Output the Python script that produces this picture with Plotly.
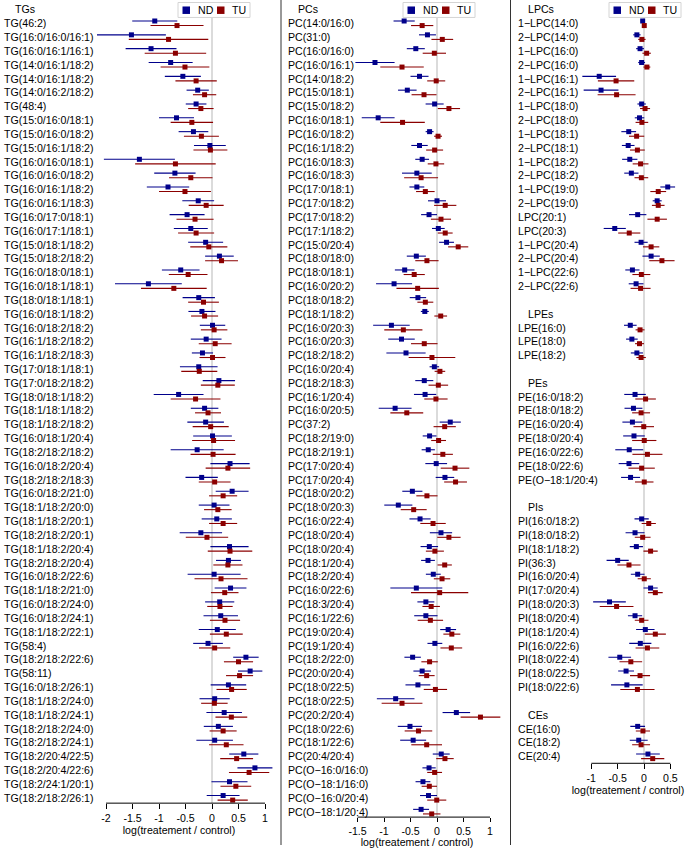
import plotly.graph_objects as go

# ---------------- data ----------------
tg_labels = ["TG(46:2)", "TG(16:0/16:0/16:1)", "TG(16:0/16:1/16:1)", "TG(14:0/16:1/18:2)",
             "TG(14:0/16:1/18:2)", "TG(14:0/16:2/18:2)", "TG(48:4)", "TG(15:0/16:0/18:1)",
             "TG(15:0/16:0/18:2)", "TG(15:0/16:1/18:2)", "TG(16:0/16:0/18:1)", "TG(16:0/16:0/18:2)",
             "TG(16:0/16:1/18:2)", "TG(16:0/16:1/18:3)", "TG(16:0/17:0/18:1)", "TG(16:0/17:1/18:1)",
             "TG(15:0/18:1/18:2)", "TG(15:0/18:2/18:2)", "TG(16:0/18:0/18:1)", "TG(16:0/18:1/18:1)",
             "TG(18:0/18:1/18:1)", "TG(16:0/18:1/18:2)", "TG(16:0/18:2/18:2)", "TG(16:1/18:2/18:2)",
             "TG(16:1/18:2/18:3)", "TG(17:0/18:1/18:1)", "TG(17:0/18:2/18:2)", "TG(18:0/18:1/18:2)",
             "TG(18:1/18:1/18:2)", "TG(18:1/18:2/18:2)", "TG(16:0/18:1/20:4)", "TG(18:2/18:2/18:2)",
             "TG(16:0/18:2/20:4)", "TG(18:2/18:2/18:3)", "TG(16:0/18:2/21:0)", "TG(18:1/18:2/20:0)",
             "TG(18:1/18:2/20:1)", "TG(18:2/18:2/20:1)", "TG(18:1/18:2/20:4)", "TG(18:2/18:2/20:4)",
             "TG(16:0/18:2/22:6)", "TG(18:1/18:2/21:0)", "TG(16:0/18:2/24:0)", "TG(16:0/18:2/24:1)",
             "TG(18:1/18:2/22:1)", "TG(58:4)", "TG(18:2/18:2/22:6)", "TG(58:11)",
             "TG(16:0/18:2/26:1)", "TG(18:1/18:2/24:0)", "TG(18:1/18:2/24:1)", "TG(18:2/18:2/24:0)",
             "TG(18:2/18:2/24:1)", "TG(18:2/20:4/22:5)", "TG(18:2/20:4/22:6)", "TG(18:2/24:1/20:1)",
             "TG(18:2/18:2/26:1)"]
tg_nd = [-1.08, -1.52, -1.15, -0.78, -0.55, -0.27, -0.30, -0.67, -0.35, -0.04, -1.37, -0.70, -0.83, -0.26,
         -0.47, -0.40, -0.12, 0.14, -0.59, -1.20, -0.25, -0.19, 0.01, -0.11, -0.18, -0.25, 0.13, -0.63,
         -0.14, -0.12, 0.01, -0.28, 0.34, -0.195, 0.38, 0.04, 0.09, -0.21, 0.33, 0.31, 0.04, 0.35,
         0.145, 0.165, 0.10, -0.075, 0.64, 0.72, 0.31, 0.05, 0.23, 0.12, 0.05, 0.60, 0.81, 0.33, 0.21]
tg_nd_ci = [0.425, 0.65, 0.48, 0.415, 0.34, 0.21, 0.195, 0.33, 0.28, 0.30, 0.67, 0.39, 0.40, 0.30,
            0.33, 0.32, 0.33, 0.27, 0.355, 0.63, 0.305, 0.255, 0.24, 0.29, 0.20, 0.355, 0.305, 0.47,
            0.26, 0.345, 0.365, 0.50, 0.37, 0.305, 0.31, 0.29, 0.285, 0.40, 0.36, 0.235, 0.50, 0.30,
            0.275, 0.325, 0.35, 0.28, 0.24, 0.23, 0.335, 0.285, 0.335, 0.275, 0.345, 0.275, 0.33, 0.34, 0.31]
tg_tu = [-0.66, -0.82, -0.69, -0.51, -0.30, -0.14, -0.21, -0.38, -0.20, -0.03, -0.69, -0.40, -0.51, -0.11,
         -0.32, -0.30, -0.06, 0.18, -0.45, -0.72, -0.16, -0.14, 0.04, 0.06, 0.01, -0.24, 0.11, -0.31,
         -0.075, -0.025, 0.03, 0.02, 0.30, 0.05, 0.21, 0.11, 0.21, -0.095, 0.34, 0.30, 0.17, 0.24,
         0.15, 0.245, 0.27, 0.05, 0.50, 0.52, 0.37, 0.045, 0.365, 0.21, 0.27, 0.465, 0.70, 0.45, 0.39]
tg_tu_ci = [0.50, 0.75, 0.58, 0.46, 0.39, 0.22, 0.24, 0.40, 0.33, 0.32, 0.76, 0.41, 0.49, 0.33,
            0.35, 0.34, 0.35, 0.31, 0.365, 0.62, 0.29, 0.255, 0.25, 0.31, 0.245, 0.34, 0.32, 0.47,
            0.245, 0.34, 0.405, 0.425, 0.42, 0.30, 0.265, 0.26, 0.265, 0.40, 0.42, 0.275, 0.50, 0.26,
            0.24, 0.285, 0.31, 0.295, 0.275, 0.255, 0.285, 0.25, 0.30, 0.255, 0.325, 0.31, 0.38, 0.29, 0.285]

pc_labels = ["PC(14:0/16:0)", "PC(31:0)", "PC(16:0/16:0)", "PC(16:0/16:1)", "PC(14:0/18:2)",
             "PC(15:0/18:1)", "PC(15:0/18:2)", "PC(16:0/18:1)", "PC(16:0/18:2)", "PC(16:1/18:2)",
             "PC(16:0/18:3)", "PC(16:0/18:3)", "PC(17:0/18:1)", "PC(17:0/18:2)", "PC(17:0/18:2)",
             "PC(17:1/18:2)", "PC(15:0/20:4)", "PC(18:0/18:0)", "PC(18:0/18:1)", "PC(16:0/20:2)",
             "PC(18:0/18:2)", "PC(18:1/18:2)", "PC(16:0/20:3)", "PC(16:0/20:3)", "PC(18:2/18:2)",
             "PC(16:0/20:4)", "PC(18:2/18:3)", "PC(16:1/20:4)", "PC(16:0/20:5)", "PC(37:2)",
             "PC(18:2/19:0)", "PC(18:2/19:1)", "PC(17:0/20:4)", "PC(17:0/20:4)", "PC(18:0/20:2)",
             "PC(18:0/20:3)", "PC(16:0/22:4)", "PC(18:0/20:4)", "PC(18:0/20:4)", "PC(18:1/20:4)",
             "PC(18:2/20:4)", "PC(16:0/22:6)", "PC(18:3/20:4)", "PC(16:1/22:6)", "PC(19:0/20:4)",
             "PC(19:1/20:4)", "PC(18:2/22:0)", "PC(20:0/20:4)", "PC(18:0/22:5)", "PC(18:0/22:5)",
             "PC(20:2/20:4)", "PC(18:0/22:6)", "PC(18:1/22:6)", "PC(20:4/20:4)", "PC(O−16:0/16:0)",
             "PC(O−18:1/16:0)", "PC(O−16:0/20:4)", "PC(O−18:1/20:4)"]
pc_nd = [-0.62, -0.18, -0.40, -1.17, -0.33, -0.56, -0.045, -1.11, -0.14, -0.33, -0.28, -0.38, -0.38, 0.0,
         -0.15, 0.025, 0.18, -0.39, -0.61, -0.81, -0.36, -0.23, -0.86, -0.67, -0.585, -0.05, -0.24, -0.225,
         -0.79, 0.25, -0.14, -0.165, -0.015, 0.15, -0.465, -0.73, -0.32, 0.075, -0.145, -0.17, -0.07, -0.39,
         -0.21, -0.21, 0.21, -0.04, -0.46, -0.28, -0.36, -0.78, 0.365, -0.51, -0.45, 0.08, -0.15, -0.265, -0.16, -0.30]
pc_nd_ci = [0.20, 0.16, 0.17, 0.37, 0.17, 0.175, 0.17, 0.31, 0.075, 0.155, 0.13, 0.28, 0.14, 0.17,
            0.15, 0.12, 0.14, 0.18, 0.185, 0.34, 0.155, 0.075, 0.345, 0.25, 0.37, 0.09, 0.17, 0.21,
            0.31, 0.20, 0.13, 0.125, 0.205, 0.175, 0.19, 0.265, 0.20, 0.21, 0.165, 0.13, 0.14, 0.49,
            0.16, 0.22, 0.15, 0.14, 0.155, 0.165, 0.235, 0.355, 0.26, 0.23, 0.245, 0.16, 0.125, 0.14, 0.16, 0.15]
pc_tu = [-0.28, 0.10, -0.05, -0.66, -0.015, -0.245, 0.225, -0.65, 0.02, -0.045, -0.02, -0.30, -0.22, 0.155,
         0.075, 0.155, 0.40, -0.19, -0.43, -0.365, -0.22, 0.07, -0.635, -0.24, -0.095, 0.055, 0.025, -0.02,
         -0.57, 0.145, 0.03, 0.11, 0.34, 0.35, -0.19, -0.44, -0.075, 0.225, -0.04, 0.145, 0.095, 0.05,
         -0.11, -0.125, 0.28, 0.27, -0.14, -0.195, -0.03, -0.66, 0.82, -0.35, -0.195, 0.15, -0.045, -0.145, -0.005, -0.10]
pc_tu_ci = [0.21, 0.205, 0.22, 0.41, 0.17, 0.235, 0.21, 0.42, 0.075, 0.16, 0.155, 0.32, 0.175, 0.21,
            0.19, 0.14, 0.19, 0.22, 0.20, 0.40, 0.15, 0.12, 0.36, 0.25, 0.44, 0.10, 0.185, 0.22,
            0.31, 0.21, 0.14, 0.19, 0.27, 0.215, 0.20, 0.245, 0.24, 0.22, 0.17, 0.135, 0.155, 0.54,
            0.165, 0.24, 0.16, 0.205, 0.155, 0.15, 0.22, 0.385, 0.375, 0.26, 0.29, 0.165, 0.14, 0.145, 0.18, 0.165]

lpc_labels = ["1−LPC(14:0)", "2−LPC(14:0)", "1−LPC(16:0)", "2−LPC(16:0)", "1−LPC(16:1)", "2−LPC(16:1)",
              "1−LPC(18:0)", "2−LPC(18:0)", "1−LPC(18:1)", "2−LPC(18:1)", "1−LPC(18:2)", "2−LPC(18:2)",
              "1−LPC(19:0)", "2−LPC(19:0)", "LPC(20:1)", "LPC(20:3)", "1−LPC(20:4)", "2−LPC(20:4)",
              "1−LPC(22:6)", "2−LPC(22:6)"]
lpc_nd = [-0.025, -0.135, -0.075, -0.045, -0.85, -0.815, -0.045, -0.085, -0.29, -0.30, -0.27, -0.24,
          0.45, 0.25, -0.12, -0.555, -0.055, 0.135, -0.22, -0.15]
lpc_nd_ci = [0.04, 0.07, 0.075, 0.065, 0.32, 0.33, 0.08, 0.09, 0.14, 0.12, 0.145, 0.135,
             0.14, 0.085, 0.165, 0.21, 0.125, 0.165, 0.135, 0.14]
lpc_tu = [0.005, -0.04, 0.05, 0.055, -0.53, -0.52, 0.02, -0.04, -0.14, -0.125, -0.065, -0.05,
          0.27, 0.27, 0.25, -0.28, 0.135, 0.34, -0.05, -0.065]
lpc_tu_ci = [0.03, 0.07, 0.08, 0.065, 0.345, 0.36, 0.095, 0.12, 0.145, 0.14, 0.15, 0.13,
             0.15, 0.12, 0.185, 0.21, 0.155, 0.24, 0.17, 0.19]

lpe_labels = ["LPE(16:0)", "LPE(18:0)", "LPE(18:2)"]
lpe_nd = [-0.26, -0.23, -0.135]
lpe_nd_ci = [0.12, 0.11, 0.115]
lpe_tu = [-0.075, -0.085, -0.055]
lpe_tu_ci = [0.085, 0.085, 0.09]

pe_labels = ["PE(16:0/18:2)", "PE(18:0/18:2)", "PE(16:0/20:4)", "PE(18:0/20:4)", "PE(16:0/22:6)",
             "PE(18:0/22:6)", "PE(O−18:1/20:4)"]
pe_nd = [-0.17, -0.20, -0.22, -0.19, -0.28, -0.285, -0.255]
pe_nd_ci = [0.205, 0.17, 0.19, 0.205, 0.265, 0.195, 0.18]
pe_tu = [0.03, -0.055, -0.005, 0.005, 0.065, -0.045, 0.005]
pe_tu_ci = [0.195, 0.17, 0.195, 0.23, 0.285, 0.25, 0.175]

pi_labels = ["PI(16:0/18:2)", "PI(18:0/18:2)", "PI(18:1/18:2)", "PI(36:3)", "PI(16:0/20:4)",
             "PI(17:0/20:4)", "PI(18:0/20:3)", "PI(18:0/20:4)", "PI(18:1/20:4)", "PI(16:0/22:6)",
             "PI(18:0/22:4)", "PI(18:0/22:5)", "PI(18:0/22:6)"]
pi_nd = [-0.045, -0.17, -0.145, -0.50, -0.12, 0.125, -0.655, -0.17, 0.025, -0.07, -0.46, -0.34, -0.325]
pi_nd_ci = [0.135, 0.18, 0.125, 0.21, 0.13, 0.135, 0.31, 0.135, 0.175, 0.21, 0.215, 0.15, 0.30]
pi_tu = [0.09, -0.025, 0.125, -0.285, 0.005, 0.215, -0.52, -0.045, 0.215, 0.065, -0.25, -0.075, -0.125]
pi_tu_ci = [0.135, 0.15, 0.135, 0.22, 0.125, 0.14, 0.32, 0.13, 0.20, 0.225, 0.215, 0.19, 0.325]

ce_labels = ["CE(16:0)", "CE(18:2)", "CE(20:4)"]
ce_nd = [-0.12, -0.10, 0.075]
ce_nd_ci = [0.14, 0.17, 0.225]
ce_tu = [-0.02, -0.055, 0.165]
ce_tu_ci = [0.135, 0.17, 0.22]

tg_ticks = [-2, -1.5, -1, -0.5, 0, 0.5, 1]
pc_ticks = [-1.5, -1, -0.5, 0, 0.5, 1]
lp_ticks = [-1, -0.5, 0, 0.5]
series_names = ["ND", "TU"]
axis_title = "log(treatement / control)"

# ---------------- styling / layout constants ----------------
W, H = 685, 848
ROW, FIRST = 13.88, 23.3
FONT = "Liberation Sans, Arial, sans-serif"
FS = 10.6
ND_COL, TU_COL = "#00008B", "#8B0000"


def slot_of(px):
    return (px - FIRST) / ROW


def tick_txt(v):
    return "%g" % v


# panel: groups as (title, labels, nd, nd_ci, tu, tu_ci)
panels = [
    dict(ax="", zero=212.0, unit=53.0, dom=(85, 273), axis_px=806, ticks=tg_ticks, ticklen=5, standoff=3,
         label_px=2, title_px=13, leg_px=178,
         groups=[("TGs", tg_labels, tg_nd, tg_nd_ci, tg_tu, tg_tu_ci)]),
    dict(ax="2", zero=437.0, unit=53.0, dom=(333, 501), axis_px=820, ticks=pc_ticks, ticklen=4, standoff=4,
         label_px=286, title_px=296, leg_px=403,
         groups=[("PCs", pc_labels, pc_nd, pc_nd_ci, pc_tu, pc_tu_ci)]),
    dict(ax="3", zero=644.0, unit=52.7, dom=(573, 683), axis_px=766, ticks=lp_ticks, ticklen=5, standoff=3,
         label_px=516, title_px=526, leg_px=609,
         groups=[("LPCs", lpc_labels, lpc_nd, lpc_nd_ci, lpc_tu, lpc_tu_ci),
                 ("LPEs", lpe_labels, lpe_nd, lpe_nd_ci, lpe_tu, lpe_tu_ci),
                 ("PEs", pe_labels, pe_nd, pe_nd_ci, pe_tu, pe_tu_ci),
                 ("PIs", pi_labels, pi_nd, pi_nd_ci, pi_tu, pi_tu_ci),
                 ("CEs", ce_labels, ce_nd, ce_nd_ci, ce_tu, ce_tu_ci)]),
]

fig = go.Figure()
annotations = []
shapes = []
layout_axes = {}

for p in panels:
    xa, ya = "x" + p["ax"], "y" + p["ax"]
    ys, xs_nd, ci_nd, xs_tu, ci_tu = [], [], [], [], []
    slot = -1
    for (title, labels, nd, ndci, tu, tuci) in p["groups"]:
        annotations.append(dict(text=title, x=p["title_px"] / W, xref="paper", y=slot, yref=ya,
                                xanchor="left", yanchor="middle", showarrow=False,
                                font=dict(family=FONT, size=FS, color="black")))
        for i, lab in enumerate(labels):
            s = slot + 1 + i
            annotations.append(dict(text=lab, x=p["label_px"] / W, xref="paper", y=s, yref=ya,
                                    xanchor="left", yanchor="middle", showarrow=False,
                                    font=dict(family=FONT, size=FS, color="black")))
            ys.append(s)
        xs_nd += nd; ci_nd += ndci; xs_tu += tu; ci_tu += tuci
        slot = slot + len(labels) + 2

    for name, xv, cv, off, col in [("ND", xs_nd, ci_nd, -0.16, ND_COL),
                                  ("TU", xs_tu, ci_tu, 0.17, TU_COL)]:
        fig.add_trace(go.Scatter(
            x=xv, y=[y + off for y in ys], mode="markers", name=name, showlegend=False,
            xaxis=xa, yaxis=ya, cliponaxis=False,
            marker=dict(symbol="square", size=5, color=col, line=dict(width=0)),
            error_x=dict(type="data", array=cv, visible=True, color=col, thickness=1.1, width=0)))

    x0 = (p["dom"][0] - p["zero"]) / p["unit"]
    x1 = (p["dom"][1] - p["zero"]) / p["unit"]
    ybot = slot_of(p["axis_px"])
    ytop = slot_of(0)
    layout_axes["xaxis" + p["ax"]] = dict(
        domain=[p["dom"][0] / W, p["dom"][1] / W], range=[x0, x1], anchor=ya,
        showgrid=False, zeroline=False, showline=False,
        ticks="outside", ticklen=p["ticklen"], tickwidth=1, tickcolor="black",
        tickvals=p["ticks"], ticktext=[tick_txt(v) for v in p["ticks"]],
        tickfont=dict(family=FONT, size=FS, color="black"),
        title=dict(text=axis_title, font=dict(family=FONT, size=FS, color="black"),
                   standoff=p["standoff"]),
        fixedrange=True)
    layout_axes["yaxis" + p["ax"]] = dict(
        domain=[1 - p["axis_px"] / H, 1], range=[ybot, ytop], anchor=xa,
        showgrid=False, zeroline=False, showline=False, showticklabels=False, ticks="",
        fixedrange=True)
    # axis line spanning tick range only
    shapes.append(dict(type="line", xref=xa, yref=ya + " domain", x0=p["ticks"][0], x1=p["ticks"][-1],
                       y0=0, y1=0, line=dict(color="black", width=1)))
    # zero reference line
    shapes.append(dict(type="line", xref=xa, yref=ya, x0=0, x1=0, y0=ybot, y1=slot_of(17),
                       line=dict(color="#cfcfcf", width=1.5), layer="below"))
    # legend box
    lx = p["leg_px"]
    shapes.append(dict(type="rect", xref="paper", yref="paper", x0=lx / W, x1=(lx + 72) / W,
                       y0=1 - 17.5 / H, y1=1 - 2.5 / H, line=dict(color="#d4d4d4", width=1),
                       fillcolor="white"))
    for k, (nm, col) in enumerate(zip(series_names, [ND_COL, TU_COL])):
        sx = lx + 4.5 + k * 34.5
        shapes.append(dict(type="rect", xref="paper", yref="paper", x0=sx / W, x1=(sx + 7.5) / W,
                           y0=1 - 14 / H, y1=1 - 6.5 / H, line=dict(width=0), fillcolor=col))
        annotations.append(dict(text=nm, x=(sx + 13) / W, xref="paper", y=1 - 10.3 / H, yref="paper",
                                xanchor="left", yanchor="middle", showarrow=False,
                                font=dict(family=FONT, size=FS, color="black")))

# panel separators
for sep in [281, 510.5]:
    shapes.append(dict(type="line", xref="paper", yref="paper", x0=sep / W, x1=sep / W, y0=0, y1=1,
                       line=dict(color="#333333", width=1)))

fig.update_layout(
    width=W, height=H, margin=dict(l=0, r=0, t=0, b=0),
    paper_bgcolor="white", plot_bgcolor="white",
    font=dict(family=FONT, size=FS, color="black"),
    showlegend=False, annotations=annotations, shapes=shapes, **layout_axes)

fig.write_html("out.html", config={"displayModeBar": False},
               post_script="document.body.style.margin='0';document.body.style.overflow='hidden';")
